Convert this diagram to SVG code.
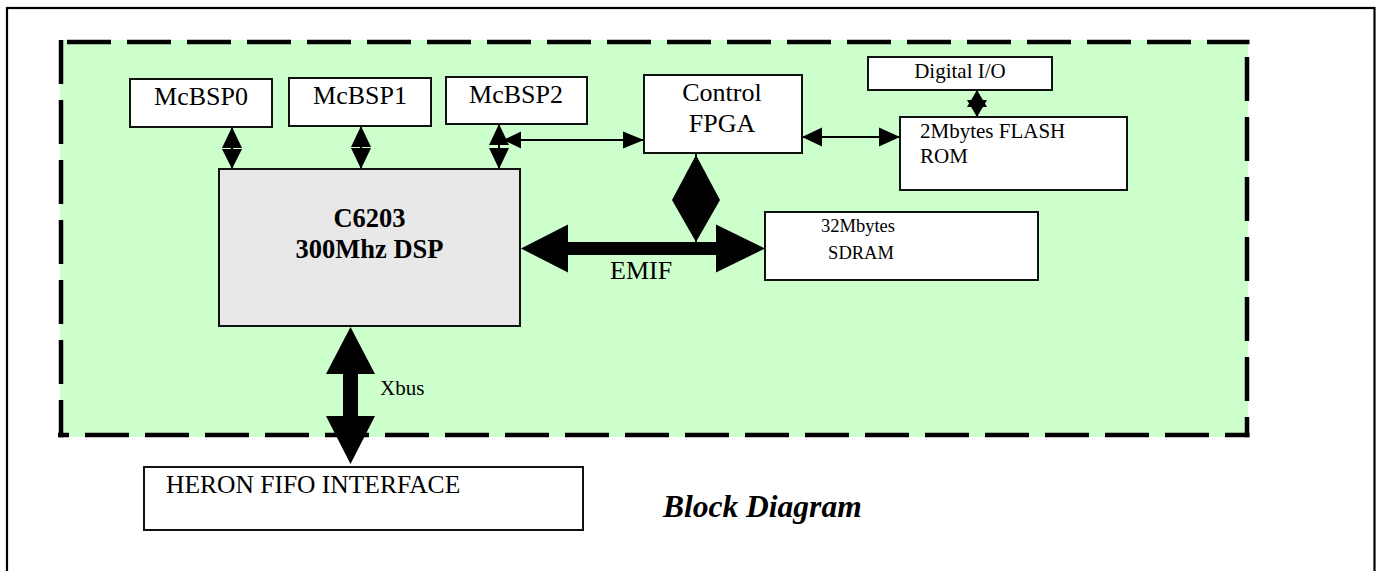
<svg xmlns="http://www.w3.org/2000/svg" width="1380" height="571" viewBox="0 0 1380 571">
<style>
.box{fill:#fff;stroke:#111;stroke-width:2}
.t{font-family:"Liberation Serif","Times New Roman",serif;fill:#000}
.dash{stroke:#000;stroke-width:4.5;fill:none;stroke-dasharray:44 16}
.thin{stroke:#000;stroke-width:2;fill:none}
.ah{fill:#000}
</style>
<rect width="1380" height="571" fill="#fff"/>
<g id="frame">
<rect x="7" y="8" width="1367.5" height="600" fill="none" stroke="#000" stroke-width="2.2"/>
</g>
<g id="board">
<rect x="60" y="40" width="1188" height="397" fill="#CCFFCC"/>
<line class="dash" x1="58" y1="42" x2="1249.5" y2="42" stroke-dashoffset="51"/>
<line class="dash" x1="58" y1="435" x2="1249.5" y2="435" stroke-dashoffset="33"/>
<line class="dash" x1="61" y1="40" x2="61" y2="437.2"/>
<line class="dash" x1="1247" y1="42" x2="1247" y2="437.2" stroke-dashoffset="45"/>
</g>
<g id="connectors">
<!-- McBSP0 <-> DSP -->
<line class="thin" x1="232" y1="127" x2="232" y2="169"/>
<polygon class="ah" points="232,127 242,148 222,148"/>
<polygon class="ah" points="232,169 242,149 222,149"/>
<!-- McBSP1 <-> DSP -->
<line class="thin" x1="361" y1="126" x2="361" y2="169"/>
<polygon class="ah" points="361,126 371,147 351,147"/>
<polygon class="ah" points="361,169 371,148 351,148"/>
<!-- McBSP2 <-> DSP -->
<line class="thin" x1="499" y1="124" x2="499" y2="169"/>
<polygon class="ah" points="499,124 509,145 489,145"/>
<polygon class="ah" points="499,169 509,148 489,148"/>
<!-- McBSP2 link <-> Control FPGA -->
<line class="thin" x1="503" y1="140" x2="644" y2="140"/>
<polygon class="ah" points="503,140 521,131.5 521,148.5"/>
<polygon class="ah" points="644,140 623,131.5 623,148.5"/>
<!-- Control FPGA <-> FLASH -->
<line class="thin" x1="802" y1="137" x2="900" y2="137"/>
<polygon class="ah" points="802,137 822,127.5 822,146.5"/>
<polygon class="ah" points="900,137 879,127.5 879,146.5"/>
<!-- Digital I/O <-> FLASH -->
<line class="thin" x1="977" y1="90" x2="977" y2="117"/>
<polygon class="ah" points="977,90 987,107 967,107"/>
<polygon class="ah" points="977,117 987,100 967,100"/>
<!-- FPGA <-> EMIF -->
<line class="thin" x1="696" y1="148" x2="696" y2="244"/>
<polygon class="ah" points="696,155 720,200 672,200"/>
<polygon class="ah" points="696,242 720,200 672,200"/>
<!-- EMIF bus -->
<polygon class="ah" points="521,248.5 568,224.5 568,242 716,242 716,224.5 765,248.5 716,272.5 716,255 568,255 568,272.5"/>
<!-- Xbus -->
<polygon class="ah" points="350.5,327 375,374 358,374 358,416 375,416 350.5,464 326,416 343,416 343,374 326,374"/>
</g>
<g id="mcbsp0">
<rect class="box" x="130" y="79" width="142" height="48"/>
<text class="t" x="201" y="105" font-size="26" text-anchor="middle">McBSP0</text>
</g>
<g id="mcbsp1">
<rect class="box" x="289" y="78" width="142" height="48"/>
<text class="t" x="360" y="104" font-size="26" text-anchor="middle">McBSP1</text>
</g>
<g id="mcbsp2">
<rect class="box" x="446" y="77" width="141" height="47"/>
<text class="t" x="516" y="103" font-size="26" text-anchor="middle">McBSP2</text>
</g>
<g id="fpga">
<rect class="box" x="644" y="75" width="158" height="78"/>
<text class="t" x="722" y="101" font-size="26" text-anchor="middle">Control</text>
<text class="t" x="722" y="132" font-size="26" text-anchor="middle">FPGA</text>
</g>
<g id="digitalio">
<rect class="box" x="868" y="57" width="184" height="33"/>
<text class="t" x="960" y="78" font-size="21" text-anchor="middle">Digital I/O</text>
</g>
<g id="flash">
<rect class="box" x="900" y="117" width="227" height="73"/>
<text class="t" x="920" y="138" font-size="21">2Mbytes FLASH</text>
<text class="t" x="920" y="163" font-size="21">ROM</text>
</g>
<g id="dsp">
<rect x="219" y="169" width="301" height="157" fill="#E8E8E8" stroke="#111" stroke-width="2"/>
<text class="t" x="369.5" y="227" font-size="26.5" font-weight="bold" text-anchor="middle">C6203</text>
<text class="t" x="369.5" y="258" font-size="26.5" font-weight="bold" text-anchor="middle">300Mhz DSP</text>
</g>
<g id="sdram">
<rect class="box" x="765" y="212" width="273" height="68"/>
<text class="t" x="858" y="232" font-size="18.5" text-anchor="middle">32Mbytes</text>
<text class="t" x="861" y="259" font-size="18.5" text-anchor="middle">SDRAM</text>
</g>
<g id="heron">
<rect class="box" x="144" y="467" width="439" height="63"/>
<text class="t" x="166" y="493" font-size="25.5">HERON FIFO INTERFACE</text>
</g>
<g id="labels">
<text class="t" x="610" y="279" font-size="26">EMIF</text>
<text class="t" x="380" y="395" font-size="21">Xbus</text>
<text class="t" x="663" y="517" font-size="31.5" font-weight="bold" font-style="italic">Block Diagram</text>
</g>
</svg>
